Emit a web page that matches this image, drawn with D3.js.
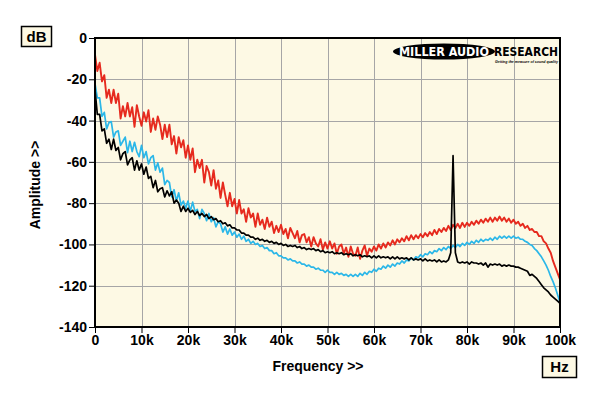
<!DOCTYPE html>
<html>
<head>
<meta charset="utf-8">
<script src="https://cdn.jsdelivr.net/npm/d3@7"></script>
<style>
  html, body { margin: 0; padding: 0; background: #ffffff; }
  svg { display: block; }
  text { font-family: "Liberation Sans", Arial, sans-serif; font-weight: bold; }
</style>
</head>
<body>
<svg id="chart" width="600" height="396"></svg>
<script>
// ---- Data ----
const stepKHz = 0.5; // sample spacing of every series, 0 .. 100 kHz
const xTicks = [0, 10000, 20000, 30000, 40000, 50000, 60000, 70000, 80000, 90000, 100000];
const xTickLabels = ["0", "10k", "20k", "30k", "40k", "50k", "60k", "70k", "80k", "90k", "100k"];
const yTicks = [0, -20, -40, -60, -80, -100, -120, -140];
const yTickLabels = ["0", "-20", "-40", "-60", "-80", "-100", "-120", "-140"];

const redDb = [
  -8,-16,-12,-21,-18,-29,-25,-31.5,-25,-31.5,-27,-39,-33,-38,-31.5,-38,-33.5,-43,-32.5,-38,
  -42.5,-36,-40.5,-35,-45.5,-39,-44.5,-38,-42,-49,-42,-48,-42,-51.5,-47.5,-56,-48,-53,-49.5,-58,
  -52,-59,-53.5,-65,-59,-63,-59,-70,-62,-65,-71.5,-64,-73,-69,-77.5,-70,-76,-81.5,-75,-81.5,
  -78,-85,-78.5,-85,-83,-89,-82.5,-87,-85,-91.5,-85,-90.5,-88,-92.5,-87,-91.5,-89,-94.5,-91,-94,
  -90.5,-95,-92.5,-97,-92,-94.5,-97,-93.5,-99,-95.5,-95,-99,-96.5,-101,-96.5,-99.5,-101,-97.5,-102.5,-99,
  -102,-98.5,-102,-99.5,-104.5,-101,-100,-104.5,-101.5,-106,-101,-104.5,-105.5,-101.5,-107,-103,-100.5,-105.5,-102,-103.5,
  -101,-103,-100,-102,-99.5,-101.5,-99,-100.5,-98,-100,-97.5,-99,-97,-98.5,-96,-98,-95.5,-97.5,-95.5,-97,
  -95,-96.5,-94.5,-96,-94,-95.5,-93,-95,-92.5,-94,-92,-93.5,-91,-93,-90.5,-92,-90,-92,-89.5,-91.5,
  -89.5,-91,-89,-90.5,-88.5,-90,-88,-89.5,-87.5,-89,-87,-89,-87,-88.5,-86.5,-88.5,-87,-89,-87.5,-89.5,
  -88,-90,-89,-91,-90,-92,-91,-93,-92.5,-94,-94,-96,-96,-98.5,-99.5,-102,-104,-108,-111,-114,
  -117
];

const cyanDb = [
  -22,-29,-29,-38,-36,-44,-41,-40.5,-48,-45.5,-45,-52,-50,-48,-55.5,-50,-55,-50.5,-55,-57.5,
  -52,-58,-55,-61,-58,-57,-64,-60.5,-65,-63,-71,-69,-70,-77,-73.5,-79,-75,-81,-79,-82.5,
  -79,-84,-79.5,-84,-83,-87.5,-83,-85,-88.5,-85,-89,-87,-91.5,-89,-90,-94,-91.5,-95,-92.5,-95.5,
  -94,-96.5,-95,-97.5,-96,-98.5,-97.5,-99.5,-98.5,-100,-99.5,-101,-100.5,-102,-101.5,-103,-103,-104.5,-104,-105.5,
  -105.5,-106.5,-106.5,-107.5,-107,-108,-108,-109,-108.5,-109.5,-109.5,-110.5,-110,-111,-111,-112,-111.5,-112.5,-112.5,-113.5,
  -112.5,-113.5,-113.5,-114.5,-113.5,-114.5,-114,-115,-114.5,-115.5,-114.5,-115.5,-114.5,-115.5,-114,-115,-113.5,-114.5,-113,-113.5,
  -112,-113,-111.5,-112,-110.5,-111.5,-110,-111,-109.5,-110.5,-109,-109.5,-108,-109,-107.5,-108,-106.5,-107.5,-106,-106.5,
  -105,-106,-104.5,-105,-103.5,-104.5,-103,-103.5,-102,-103,-101.5,-102.5,-101,-102,-100.5,-101.5,-100,-101,-99.5,-100.5,
  -99,-100,-98.5,-99.5,-98,-99,-97.5,-98.5,-97.5,-98,-97,-98,-96.5,-97.5,-96,-97,-96,-97,-96,-97,
  -96,-97,-96.5,-97.5,-97.5,-98.5,-99,-100,-100.5,-102,-103,-104.5,-106,-108,-110,-112.5,-115.5,-118,-121,-124.5,
  -128
];

const blackDb = [
  -25,-37,-37,-45,-44,-51,-49,-54,-49,-54.5,-53,-59,-56,-55,-61.5,-59,-58,-64,-59.5,-64,
  -61,-66,-62.5,-68,-67,-72.5,-69,-74.5,-73,-72.5,-77,-74,-76.5,-74.5,-80,-78.5,-80,-84,-81.5,-84,
  -82.5,-84.5,-83.5,-85.5,-84,-86,-85,-86.5,-85.5,-87.5,-86.5,-88,-87.5,-89,-88.5,-90,-89.5,-91,-90.5,-92,
  -92,-93,-93,-94.5,-94.5,-95.5,-95.5,-96.5,-96.5,-97.5,-97,-98,-97.5,-98.5,-98,-99,-98.5,-99.5,-99,-100,
  -99.5,-100.5,-100,-101,-100.5,-101,-100.5,-101.5,-101,-102,-101.5,-102.5,-102,-102.5,-102,-103,-102.5,-103.5,-103,-104,
  -103.5,-104,-103.5,-104.5,-104,-104.5,-104,-105,-104.5,-105,-104.5,-105.5,-105,-105.5,-105,-106,-105.5,-106,-105.5,-106.5,
  -105.5,-106.5,-105.5,-106.5,-106,-106.5,-106,-107,-106,-107,-106,-107,-106.5,-107,-106.5,-107.5,-106.5,-107.5,-107,-107.5,
  -107,-108,-107,-108,-107.5,-108,-107.5,-108.5,-107.5,-108.5,-108,-108.5,-107.5,-104,-57,-104,-108.5,-109,-108.5,-109,
  -108.5,-109.5,-108.5,-109,-109,-109.5,-109,-110,-109,-111,-109.5,-110,-109.5,-110,-109.5,-110.5,-110,-110.5,-110,-110.5,
  -110.5,-111,-111,-111.5,-112,-112.5,-113,-115,-114.5,-115.5,-116.5,-118,-119.5,-121,-122,-123,-124.5,-125.5,-126.5,-127.5,
  -128.5
];

// ---- Layout ----
const svg = d3.select("#chart");
const plot = { left: 95, right: 560, top: 38, bottom: 327 };
const x = d3.scaleLinear().domain([0, 100000]).range([plot.left, plot.right]);
const y = d3.scaleLinear().domain([-140, 0]).range([plot.bottom, plot.top]);

// plot background
svg.append("rect")
  .attr("x", plot.left).attr("y", plot.top)
  .attr("width", plot.right - plot.left).attr("height", plot.bottom - plot.top)
  .attr("fill", "#fdf9e4");

// grid
const grid = svg.append("g").attr("stroke", "#a6a6a6").attr("stroke-width", 1);
grid.selectAll("line.vx").data(xTicks.slice(1, -1)).join("line")
  .attr("x1", d => Math.round(x(d)) + 0.5).attr("x2", d => Math.round(x(d)) + 0.5)
  .attr("y1", plot.top).attr("y2", plot.bottom);
grid.selectAll("line.hy").data(yTicks.slice(1, -1)).join("line")
  .attr("y1", d => Math.round(y(d)) + 0.5).attr("y2", d => Math.round(y(d)) + 0.5)
  .attr("x1", plot.left).attr("x2", plot.right);

// logo
const logo = svg.append("g");
logo.append("ellipse").attr("cx", 444).attr("cy", 51.5).attr("rx", 51).attr("ry", 8).attr("fill", "#000");
logo.append("text").attr("x", 399).attr("y", 56).attr("fill", "#fff")
  .style("font-family", "'DejaVu Sans', sans-serif")
  .attr("font-size", 12).attr("textLength", 90).attr("lengthAdjust", "spacingAndGlyphs")
  .text("MILLER AUDIO");
logo.append("text").attr("x", 494).attr("y", 55.5).attr("fill", "#000")
  .style("font-family", "'DejaVu Sans', sans-serif")
  .attr("font-size", 12).attr("textLength", 64).attr("lengthAdjust", "spacingAndGlyphs")
  .text("RESEARCH");
logo.append("text").attr("x", 495).attr("y", 63).attr("fill", "#000")
  .attr("font-size", 4).attr("font-style", "italic").attr("textLength", 63).attr("lengthAdjust", "spacingAndGlyphs")
  .text("Getting the measure of sound quality");

// traces
const line = d3.line()
  .x((d, i) => x(i * stepKHz * 1000))
  .y(d => y(d))
  .curve(d3.curveLinear);

const traces = [
  { data: cyanDb, color: "#2bb7e8", width: 1.7 },
  { data: redDb, color: "#e62a1e", width: 1.9 },
  { data: blackDb, color: "#000000", width: 1.7 }
];
svg.append("clipPath").attr("id", "clip").append("rect")
  .attr("x", plot.left).attr("y", plot.top)
  .attr("width", plot.right - plot.left).attr("height", plot.bottom - plot.top);
svg.append("g").attr("clip-path", "url(#clip)")
  .selectAll("path").data(traces).join("path")
  .attr("d", d => line(d.data))
  .attr("fill", "none")
  .attr("stroke", d => d.color)
  .attr("stroke-width", d => d.width)
  .attr("stroke-linejoin", "round");

// frame
svg.append("rect")
  .attr("x", plot.left).attr("y", plot.top)
  .attr("width", plot.right - plot.left).attr("height", plot.bottom - plot.top)
  .attr("fill", "none").attr("stroke", "#000").attr("stroke-width", 2);

// axes
const yAxis = d3.axisLeft(y).tickValues(yTicks)
  .tickFormat((d, i) => yTickLabels[i]).tickSize(5).tickPadding(2);
const gy = svg.append("g").attr("transform", `translate(${plot.left - 1},0)`).call(yAxis);
gy.select(".domain").remove();
gy.selectAll("line").attr("stroke", "#000");
gy.selectAll("text").attr("font-size", 14).attr("fill", "#000")
  .style("font-family", "'Liberation Sans', Arial, sans-serif").style("font-weight", "bold");

const xAxis = d3.axisBottom(x).tickValues(xTicks)
  .tickFormat((d, i) => xTickLabels[i]).tickSize(5).tickPadding(2);
const gx = svg.append("g").attr("transform", `translate(0,${plot.bottom + 1})`).call(xAxis);
gx.select(".domain").remove();
gx.selectAll("line").attr("stroke", "#000");
gx.selectAll("text").attr("font-size", 14).attr("fill", "#000")
  .style("font-family", "'Liberation Sans', Arial, sans-serif").style("font-weight", "bold");

// axis titles
svg.append("text").attr("x", 318).attr("y", 371).attr("text-anchor", "middle")
  .attr("font-size", 14).text("Frequency >>");
svg.append("text").attr("transform", "translate(40,185) rotate(-90)").attr("text-anchor", "middle")
  .attr("font-size", 14).text("Amplitude >>");

// unit boxes
function unitBox(bx, by, w, h, label) {
  svg.append("rect").attr("x", bx + 0.5).attr("y", by + 0.5).attr("width", w).attr("height", h)
    .attr("fill", "#fdf9e4").attr("stroke", "#000").attr("stroke-width", 1.5);
  svg.append("text").attr("x", bx + w / 2 + 0.5).attr("y", by + h / 2 + 5.5)
    .attr("text-anchor", "middle").attr("font-size", 15).text(label);
}
unitBox(21, 26, 30, 20, "dB");
unitBox(542, 356, 34, 21, "Hz");
</script>
</body>
</html>
